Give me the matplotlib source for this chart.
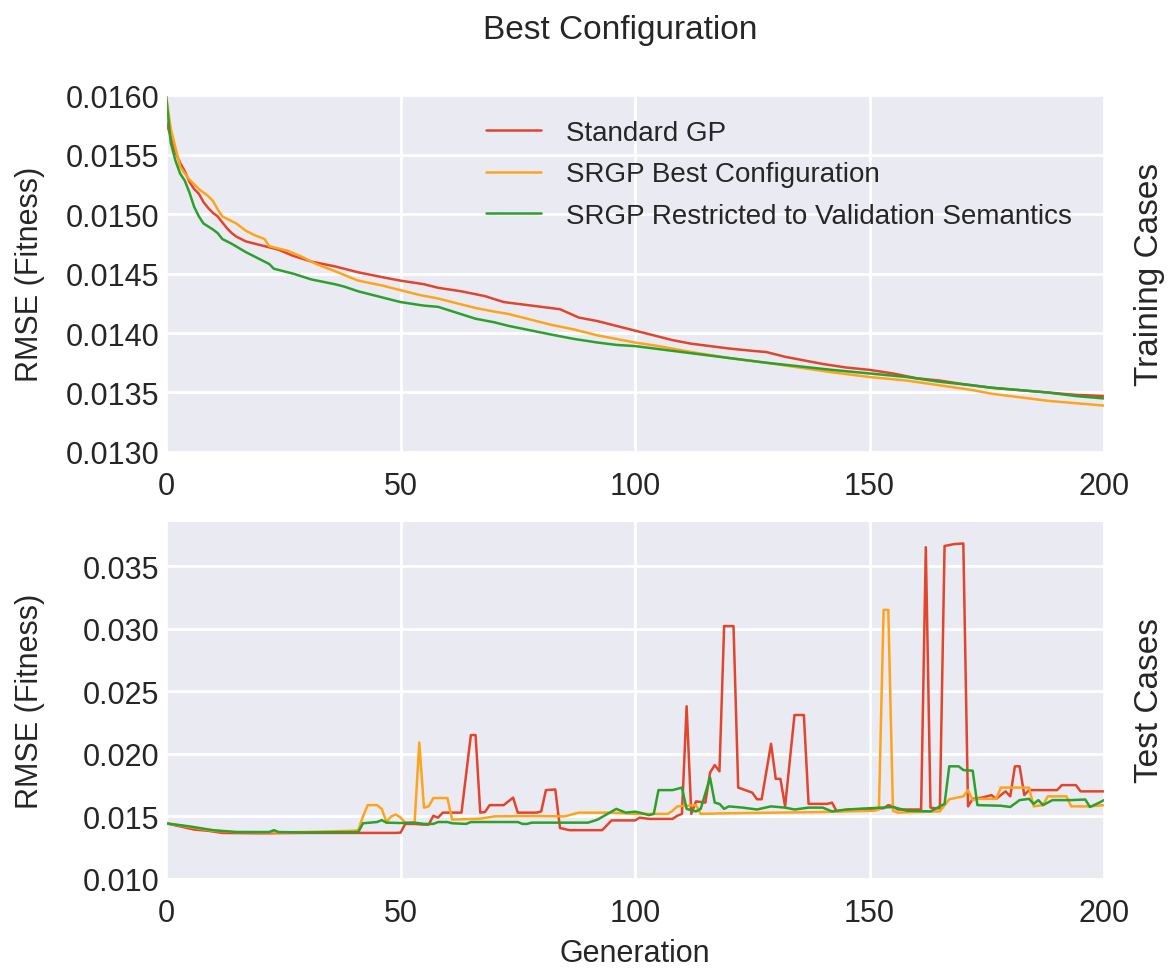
import matplotlib
matplotlib.use("Agg")
import matplotlib.pyplot as plt
import seaborn as sns

sns.set_style("darkgrid")
plt.rcParams['font.family'] = ['Liberation Sans', 'DejaVu Sans']

# Training RMSE per generation (sampled)
train_std_gen = [0, 1, 2, 3, 4, 5, 6, 7, 8, 9, 10, 11, 12, 13, 14, 15, 17, 20, 24, 27, 31, 36, 41, 46, 50,
                 55, 58, 63, 68, 72, 76, 80, 84, 88, 92, 96, 100, 104, 108, 112, 116, 120, 125, 128,
                 132, 136, 140, 145, 150, 155, 160, 165, 170, 176, 182, 188, 194, 200]
train_std = [0.01578, 0.01565, 0.01552, 0.01543, 0.01536, 0.01527, 0.01521, 0.01517, 0.01510, 0.01505,
             0.01501, 0.01498, 0.01493, 0.01488, 0.01484, 0.01481, 0.01477, 0.01474, 0.01470, 0.01465,
             0.01460, 0.01456, 0.01451, 0.01447, 0.01444, 0.01441, 0.01438, 0.01435, 0.01431, 0.01426,
             0.01424, 0.01422, 0.01420, 0.01413, 0.01410, 0.01406, 0.01402, 0.01398, 0.01394, 0.01391,
             0.01389, 0.01387, 0.01385, 0.01384, 0.01380, 0.01377, 0.01374, 0.01371, 0.01369, 0.01366,
             0.01362, 0.01360, 0.01357, 0.01354, 0.01352, 0.01350, 0.01348, 0.01347]

train_best_gen = [0, 1, 2, 3, 4, 5, 6, 7, 8, 9, 10, 11, 12, 13, 15, 17, 19, 21, 22, 24, 26, 29, 32, 36, 41,
                  46, 50, 54, 58, 62, 66, 70, 73, 78, 82, 87, 92, 96, 100, 105, 112, 120, 128, 135, 142,
                  150, 158, 165, 172, 176, 182, 188, 194, 200]
train_best = [0.01600, 0.01572, 0.01556, 0.01540, 0.01534, 0.01529, 0.01525, 0.01521, 0.01518, 0.01515,
              0.01511, 0.01504, 0.01498, 0.01496, 0.01492, 0.01486, 0.01482, 0.01479, 0.01473, 0.01471,
              0.01469, 0.01464, 0.01458, 0.01452, 0.01444, 0.01440, 0.01436, 0.01432, 0.01429, 0.01425,
              0.01421, 0.01418, 0.01416, 0.01411, 0.01407, 0.01403, 0.01398, 0.01395, 0.01392, 0.01389,
              0.01384, 0.01379, 0.01375, 0.01371, 0.01367, 0.01363, 0.01360, 0.01356, 0.01352, 0.01349,
              0.01346, 0.01343, 0.01341, 0.01339]

train_val_gen = [0, 1, 2, 3, 4, 5, 6, 7, 8, 10, 11, 12, 14, 17, 20, 22, 23, 27, 31, 36, 38, 41, 45, 50, 55,
                 58, 62, 66, 70, 73, 78, 83, 87, 92, 96, 100, 106, 112, 120, 128, 135, 142, 150, 158,
                 165, 172, 176, 182, 188, 194, 200]
train_val = [0.01600, 0.01560, 0.01545, 0.01534, 0.01528, 0.01518, 0.01506, 0.01498, 0.01492, 0.01487,
             0.01484, 0.01479, 0.01475, 0.01468, 0.01462, 0.01458, 0.01454, 0.01450, 0.01445, 0.01441,
             0.01439, 0.01435, 0.01431, 0.01426, 0.01423, 0.01422, 0.01417, 0.01412, 0.01409, 0.01406,
             0.01402, 0.01398, 0.01395, 0.01392, 0.01390, 0.01389, 0.01386, 0.01383, 0.01379, 0.01375,
             0.01372, 0.01369, 0.01366, 0.01363, 0.01359, 0.01356, 0.01354, 0.01352, 0.01350, 0.01347,
             0.01345]

# Test RMSE per generation
test_std_gen = [0, 3, 6, 9, 12, 20, 30, 40, 49, 50, 51, 53, 55, 56, 57, 58, 59, 62, 63, 65, 66, 67, 68, 69,
                72, 74, 75, 79, 80, 81, 83, 84, 86, 90, 93, 95, 100, 101, 103, 108, 109, 110, 111, 112,
                113, 115, 116, 117, 118, 119, 121, 122, 125, 126, 127, 129, 130, 131, 132, 134, 136, 137,
                141, 142, 143, 146, 150, 153, 154, 155, 156, 161, 162, 163, 164, 165, 166, 168, 170, 171,
                172, 174, 176, 177, 179, 180, 181, 182, 183, 184, 190, 191, 194, 195, 200]
test_std = [0.01445, 0.01420, 0.01395, 0.01385, 0.01368, 0.01365, 0.01368, 0.01368, 0.01368, 0.01370,
            0.01440, 0.01440, 0.01434, 0.01434, 0.01505, 0.01490, 0.01530, 0.01530, 0.01530, 0.02150,
            0.02150, 0.01530, 0.01535, 0.01590, 0.01590, 0.01650, 0.01530, 0.01530, 0.01540, 0.01710,
            0.01715, 0.01407, 0.01390, 0.01390, 0.01390, 0.01468, 0.01468, 0.01490, 0.01480, 0.01480,
            0.01505, 0.01520, 0.02380, 0.01520, 0.01620, 0.01610, 0.01850, 0.01910, 0.01860, 0.03020,
            0.03020, 0.01730, 0.01690, 0.01637, 0.01637, 0.02080, 0.01800, 0.01800, 0.01580, 0.02310,
            0.02310, 0.01600, 0.01600, 0.01610, 0.01540, 0.01555, 0.01560, 0.01565, 0.01590, 0.01580,
            0.01555, 0.01555, 0.03650, 0.01570, 0.01565, 0.01565, 0.03660, 0.03675, 0.03680, 0.01580,
            0.01640, 0.01650, 0.01670, 0.01640, 0.01700, 0.01660, 0.01900, 0.01900, 0.01670, 0.01710,
            0.01710, 0.01750, 0.01750, 0.01700, 0.01700]

test_best_gen = [0, 5, 10, 15, 25, 35, 40, 41, 42, 43, 45, 46, 47, 48, 49, 50, 51, 53, 54, 55, 56, 57, 60,
                 61, 64, 67, 70, 75, 80, 85, 88, 95, 100, 107, 108, 109, 113, 114, 120, 130, 140, 151, 152,
                 153, 154, 155, 156, 160, 165, 167, 170, 171, 172, 173, 177, 178, 184, 185, 187, 188, 192,
                 193, 197, 200]
test_best = [0.01445, 0.01415, 0.01385, 0.01375, 0.01372, 0.01380, 0.01385, 0.01390, 0.01500, 0.01590,
             0.01590, 0.01560, 0.01455, 0.01500, 0.01515, 0.01490, 0.01450, 0.01450, 0.02090, 0.01570,
             0.01580, 0.01647, 0.01647, 0.01474, 0.01478, 0.01482, 0.01500, 0.01502, 0.01502, 0.01500,
             0.01530, 0.01530, 0.01520, 0.01520, 0.01545, 0.01580, 0.01590, 0.01520, 0.01525, 0.01530,
             0.01535, 0.01545, 0.01555, 0.03150, 0.03150, 0.01545, 0.01530, 0.01535, 0.01540, 0.01637,
             0.01660, 0.01710, 0.01630, 0.01640, 0.01640, 0.01730, 0.01730, 0.01580, 0.01590, 0.01660,
             0.01660, 0.01580, 0.01580, 0.01590]

test_val_gen = [0, 5, 10, 15, 22, 23, 24, 30, 41, 42, 45, 46, 47, 50, 53, 55, 57, 58, 60, 61, 64, 65, 75,
                76, 77, 78, 90, 92, 96, 98, 100, 101, 103, 104, 105, 108, 110, 111, 113, 114, 116, 117,
                118, 119, 120, 123, 126, 129, 132, 134, 137, 140, 142, 145, 150, 155, 158, 163, 164, 166,
                167, 169, 170, 172, 173, 178, 180, 182, 184, 185, 186, 187, 189, 193, 196, 197, 199, 200]
test_val = [0.01445, 0.01420, 0.01390, 0.01375, 0.01375, 0.01390, 0.01375, 0.01372, 0.01375, 0.01445,
            0.01455, 0.01470, 0.01450, 0.01447, 0.01450, 0.01440, 0.01440, 0.01455, 0.01455, 0.01445,
            0.01440, 0.01455, 0.01455, 0.01440, 0.01440, 0.01450, 0.01450, 0.01474, 0.01560, 0.01530,
            0.01538, 0.01530, 0.01510, 0.01520, 0.01710, 0.01710, 0.01730, 0.01560, 0.01540, 0.01560,
            0.01810, 0.01610, 0.01600, 0.01560, 0.01580, 0.01570, 0.01555, 0.01580, 0.01570, 0.01555,
            0.01570, 0.01570, 0.01540, 0.01555, 0.01565, 0.01575, 0.01545, 0.01540, 0.01560, 0.01600,
            0.01900, 0.01900, 0.01870, 0.01865, 0.01590, 0.01585, 0.01575, 0.01630, 0.01640, 0.01600,
            0.01630, 0.01590, 0.01630, 0.01630, 0.01635, 0.01575, 0.01610, 0.01630]

labels = ["Standard GP", "SRGP Best Configuration", "SRGP Restricted to Validation Semantics"]
colors = ["#e2452c", "#ffa41a", "#2ca02c"]

fig = plt.figure(figsize=(11.75, 9.7), dpi=100)
ax1 = fig.add_axes([0.1413, 0.533, 0.7983, 0.368])
ax2 = fig.add_axes([0.1413, 0.0928, 0.7983, 0.3691])

ax1.plot(train_std_gen, train_std, color=colors[0], lw=1.8, label=labels[0])
ax1.plot(train_best_gen, train_best, color=colors[1], lw=1.8, label=labels[1])
ax1.plot(train_val_gen, train_val, color=colors[2], lw=1.8, label=labels[2])

ax2.plot(test_std_gen, test_std, color=colors[0], lw=1.8)
ax2.plot(test_best_gen, test_best, color=colors[1], lw=1.8)
ax2.plot(test_val_gen, test_val, color=colors[2], lw=1.8)

ax1.set_xlim(0, 200)
ax1.set_ylim(0.0130, 0.0160)
ax1.set_yticks([0.0130, 0.0135, 0.0140, 0.0145, 0.0150, 0.0155, 0.0160])
ax1.set_yticklabels(["%.4f" % v for v in ax1.get_yticks()])

ax2.set_xlim(0, 200)
ax2.set_ylim(0.010, 0.0386)
ax2.set_yticks([0.010, 0.015, 0.020, 0.025, 0.030, 0.035])
ax2.set_yticklabels(["%.3f" % v for v in ax2.get_yticks()])
ax2.set_xlabel("Generation", fontsize=22, labelpad=7)

for ax, side in [(ax1, "Training Cases"), (ax2, "Test Cases")]:
    ax.set_xticks([0, 50, 100, 150, 200])
    ax.tick_params(labelsize=22, length=0)
    ax.tick_params(axis="x", pad=14)
    ax.tick_params(axis="y", pad=5)
    ax.grid(color="white", lw=2)
    ax.set_ylabel("RMSE (Fitness)", fontsize=22)
    ax.yaxis.set_label_coords(-0.129, 0.5)
    ax.text(1.049, 0.5, side, transform=ax.transAxes, rotation=90,
            ha="center", va="center", fontsize=24)

ax1.legend(loc="upper left", bbox_to_anchor=(0.341, 0.93), frameon=False,
           fontsize=20, borderpad=0, borderaxespad=0, labelspacing=0.55,
           handlelength=2.0, handletextpad=0.9)

fig.suptitle("Best Configuration", fontsize=24, x=0.528, y=0.985)

fig.savefig("out.png", dpi=100)
